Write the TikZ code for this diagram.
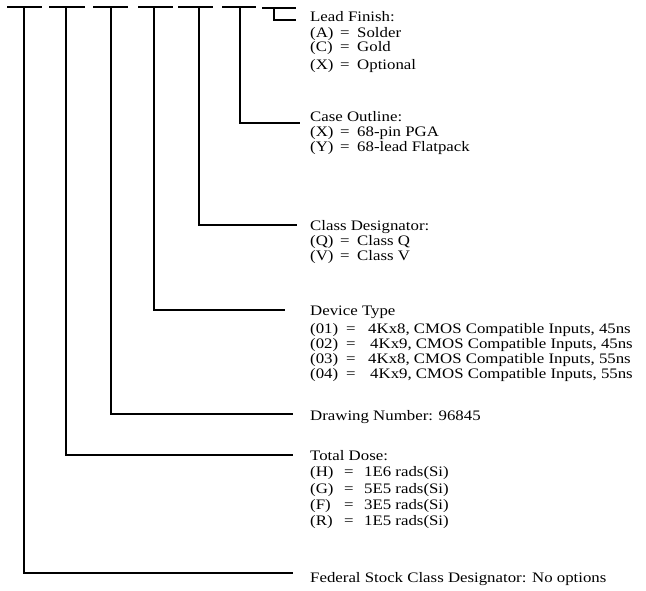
\documentclass[tikz,border=0pt]{standalone}
\usepackage{fontspec}
\setmainfont{Liberation Serif}[FakeStretch=1.16]
\begin{document}
\begin{tikzpicture}[x=1pt,y=-1pt,
  ln/.style={line width=1.4pt},
  tx/.style={anchor=base west,inner sep=0pt,font=\fontsize{14.5}{15}\selectfont}]
\useasboundingbox[fill=white] (0,0) rectangle (646,591);
% dashes
\foreach \a/\b in {7/42,49/85,93/128,138/173,178/213,222/256}{
  \draw[ln] (\a,7) -- (\b,7);
}
\draw[ln] (262,8) -- (296,8);
% connector anchors
\coordinate (t1) at (24,7);
\coordinate (t2) at (66,7);
\coordinate (t3) at (111,7);
\coordinate (t4) at (154,7);
\coordinate (t5) at (199,7);
\coordinate (t6) at (240,7);
\coordinate (t7) at (274,8);
\coordinate (e1) at (293,573);
\coordinate (e2) at (293,455);
\coordinate (e3) at (293,414);
\coordinate (e4) at (285,310);
\coordinate (e5) at (297,225);
\coordinate (e6) at (300,123);
\coordinate (e7) at (296,20);
\foreach \i in {1,...,7}{ \draw[ln] (t\i) |- (e\i); }
% Lead Finish
\node[tx] (lf) at (310,22) {Lead Finish:};
\node[tx] (lfa) at (310,38) {(A)}; \node[tx] (lfae) at (340,38) {=}; \node[tx] (lfav) at (357,38) {Solder};
\node[tx] (lfc) at (310,52) {(C)}; \node[tx] (lfce) at (340,52) {=}; \node[tx] (lfcv) at (357,52) {Gold};
\node[tx] (lfx) at (310,70) {(X)}; \node[tx] (lfxe) at (340,70) {=}; \node[tx] (lfxv) at (357,70) {Optional};
% Case Outline
\node[tx] (co) at (310,122) {Case Outline:};
\node[tx] (cox) at (310,137) {(X)}; \node[tx] (coxe) at (340,137) {=}; \node[tx] (coxv) at (357,137) {68-pin PGA};
\node[tx] (coy) at (310,152) {(Y)}; \node[tx] (coye) at (340,152) {=}; \node[tx] (coyv) at (357,152) {68-lead Flatpack};
% Class Designator
\node[tx] (cd) at (310,231) {Class Designator:};
\node[tx] (cdq) at (310,246) {(Q)}; \node[tx] (cdqe) at (340,246) {=}; \node[tx] (cdqv) at (357,246) {Class Q};
\node[tx] (cdv) at (310,261) {(V)}; \node[tx] (cdve) at (340,261) {=}; \node[tx] (cdvv) at (357,261) {Class V};
% Device Type
\node[tx] (dt) at (310,316) {Device Type};
\node[tx] (d1) at (310,333) {(01)}; \node[tx] (d1e) at (346,333) {=}; \node[tx] (d1v) at (368,333) {4Kx8, CMOS Compatible Inputs, 45ns};
\node[tx] (d2) at (310,348) {(02)}; \node[tx] (d2e) at (346,348) {=}; \node[tx] (d2v) at (370,348) {4Kx9, CMOS Compatible Inputs, 45ns};
\node[tx] (d3) at (310,363) {(03)}; \node[tx] (d3e) at (346,363) {=}; \node[tx] (d3v) at (368,363) {4Kx8, CMOS Compatible Inputs, 55ns};
\node[tx] (d4) at (310,378) {(04)}; \node[tx] (d4e) at (346,378) {=}; \node[tx] (d4v) at (370,378) {4Kx9, CMOS Compatible Inputs, 55ns};
% Drawing Number
\node[tx] (dn) at (310,420) {Drawing Number: 96845};
% Total Dose
\node[tx] (td) at (310,460) {Total Dose:};
\node[tx] (th) at (310,476) {(H)}; \node[tx] (the) at (344,476) {=}; \node[tx] (thv) at (364,476) {1E6 rads(Si)};
\node[tx] (tg) at (310,493) {(G)}; \node[tx] (tge) at (344,493) {=}; \node[tx] (tgv) at (364,493) {5E5 rads(Si)};
\node[tx] (tf) at (310,509) {(F)}; \node[tx] (tfe) at (344,509) {=}; \node[tx] (tfv) at (364,509) {3E5 rads(Si)};
\node[tx] (tr) at (310,525) {(R)}; \node[tx] (tre) at (344,525) {=}; \node[tx] (trv) at (364,525) {1E5 rads(Si)};
% Federal
\node[tx] (fs) at (310,582) {Federal Stock Class Designator: No options};
\end{tikzpicture}
\end{document}
